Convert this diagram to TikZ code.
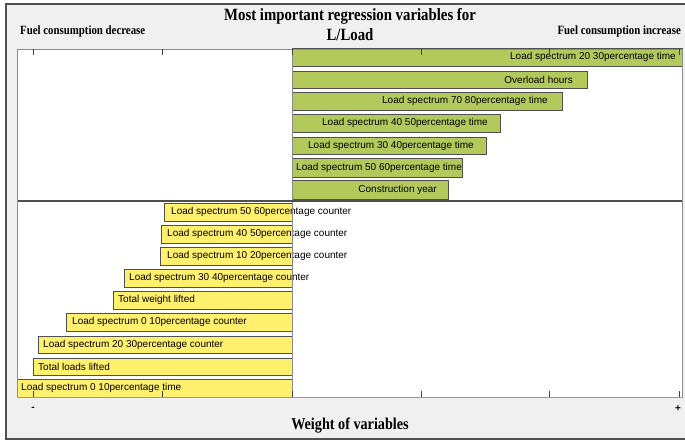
\documentclass[tikz,border=0pt]{standalone}
\usepackage{fontspec}
\setmainfont{Liberation Sans}
\newfontfamily\titlefont[FakeStretch=0.86]{Liberation Serif}
\definecolor{barG}{RGB}{180,201,92}
\definecolor{barY}{RGB}{255,240,110}
\definecolor{bgGray}{RGB}{240,240,240}
\definecolor{edgeD}{RGB}{80,80,80}
\tikzset{
  gbar/.style={fill=barG,draw=edgeD,line width=0.9pt},
  ybar/.style={fill=barY,draw=edgeD,line width=0.9pt},
  lbl/.style={font=\fontsize{10}{12}\selectfont,inner sep=0pt,text=black},
  ttl/.style={font=\titlefont\bfseries\fontsize{17.2}{20}\selectfont,inner sep=0pt},
  side/.style={font=\titlefont\bfseries\fontsize{12.6}{14}\selectfont,inner sep=0pt},
  tickm/.style={draw=black!75,line width=0.6pt},
  sign/.style={font=\bfseries\fontsize{10}{11}\selectfont,inner sep=0pt},
}
\begin{document}
\begin{tikzpicture}[x=1pt,y=-1pt]
\useasboundingbox (0,0) rectangle (685,440);
\fill[white] (0,0) rectangle (685,440);
% outer frame
\fill[bgGray] (6,4) rectangle (695,439);
\draw[edgeD,line width=1.2pt] (695,4) -- (6,4) -- (6,439) -- (695,439);
% plot area
\fill[white] (17,49) rectangle (682,397);
% titles
\node[ttl] (t1) at (350,16) {Most important regression variables for};
\node[ttl] (t2) at (350,35) {L/Load};
\node[side,anchor=west] (dec) at (20,31) {Fuel consumption decrease};
\node[side,anchor=east] (inc) at (681,31) {Fuel consumption increase};
% green bars
\draw[gbar] (292,48) rectangle (682,66);
\draw[gbar] (292,71) rectangle (587,88);
\draw[gbar] (292,92) rectangle (562,110);
\draw[gbar] (292,114) rectangle (500,132);
\draw[gbar] (292,137) rectangle (486,154);
\draw[gbar] (292,158) rectangle (462,177);
\draw[gbar] (292,180) rectangle (448,199);
\node[lbl,anchor=east] (g1) at (676,57) {Load spectrum 20 30percentage time};
\node[lbl,anchor=east] (g2) at (573,79.5) {Overload hours};
\node[lbl,anchor=east] (g3) at (548,101) {Load spectrum 70 80percentage time};
\node[lbl,anchor=east] (g4) at (488,123) {Load spectrum 40 50percentage time};
\node[lbl,anchor=east] (g5) at (474,145.5) {Load spectrum 30 40percentage time};
\node[lbl,anchor=west] (g6) at (296,167.5) {Load spectrum 50 60percentage time};
\node[lbl,anchor=east] (g7) at (437,189.5) {Construction year};
% yellow bars
\draw[ybar] (164,203) rectangle (292,221);
\draw[ybar] (161,225) rectangle (292,243);
\draw[ybar] (160,247) rectangle (292,265);
\draw[ybar] (124,269) rectangle (292,287);
\draw[ybar] (113,291) rectangle (292,309);
\draw[ybar] (66,313) rectangle (292,331);
\draw[ybar] (38,336) rectangle (292,353);
\draw[ybar] (33,358) rectangle (292,375);
\draw[ybar] (17,379) rectangle (292,397);
\node[lbl,anchor=west] (y1) at (171,212) {Load spectrum 50 60percentage counter};
\node[lbl,anchor=west] (y2) at (167,234) {Load spectrum 40 50percentage counter};
\node[lbl,anchor=west] (y3) at (167,256) {Load spectrum 10 20percentage counter};
\node[lbl,anchor=west] (y4) at (129,278) {Load spectrum 30 40percentage counter};
\node[lbl,anchor=west] (y5) at (118,300) {Total weight lifted};
\node[lbl,anchor=west] (y6) at (72,322) {Load spectrum 0 10percentage counter};
\node[lbl,anchor=west] (y7) at (43,344.5) {Load spectrum 20 30percentage counter};
\node[lbl,anchor=west] (y8) at (38,366.5) {Total loads lifted};
\node[lbl,anchor=west] (y9) at (21,388) {Load spectrum 0 10percentage time};
% center line and divider
\draw[black!45,line width=0.8pt] (292,49) -- (292,397);
\draw[edgeD,line width=1.6pt] (17,201) -- (682,201);
% plot box
\draw[black!45,line width=0.9pt] (17,49) rectangle (682,397);
\draw[black!40,line width=1.6pt] (17,397.5) -- (682,397.5);
% ticks
\foreach \tx in {33,162.5,292,421,549.5,679}{
  \draw[tickm] (\tx,49) -- (\tx,55);
  \draw[tickm] (\tx,397) -- (\tx,391);
}
\node[sign] (minus) at (33,409) {-};
\node[sign] (plus) at (678,409) {+};
\node[ttl,font=\titlefont\bfseries\fontsize{16.5}{18}\selectfont] (xl) at (350,426) {Weight of variables};
\end{tikzpicture}
\end{document}
